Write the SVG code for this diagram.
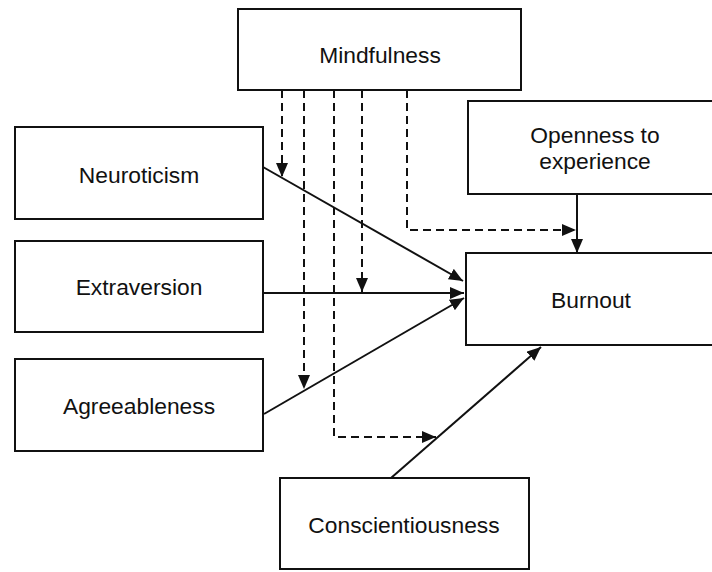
<svg xmlns="http://www.w3.org/2000/svg" width="712" height="572" viewBox="0 0 712 572">
<defs>
<style>
.box{fill:#fff;stroke:#111;stroke-width:2}
.lbl{font-family:"Liberation Sans",Arial,sans-serif;font-size:22.8px;fill:#111;text-anchor:middle}
.solid{fill:none;stroke:#111;stroke-width:2;marker-end:url(#ah)}
.dash{fill:none;stroke:#111;stroke-width:2;stroke-dasharray:8 5;marker-end:url(#ah)}
</style>
<marker id="ah" viewBox="0 0 14 12" refX="14" refY="6" markerWidth="14" markerHeight="12" markerUnits="userSpaceOnUse" orient="auto">
<path d="M0,0 L14,6 L0,12 Z" fill="#111"/>
</marker>
</defs>
<rect width="712" height="572" fill="#fff"/>
<g id="connectors">
<path class="solid" d="M263,167 L463,281"/>
<path class="solid" d="M263,293 L464,293"/>
<path class="solid" d="M264,414 L464,298"/>
<path class="solid" d="M391,478 L541,347"/>
<path class="solid" d="M577,194 L577,253"/>
<path class="dash" d="M282,90 L282,177"/>
<path class="dash" d="M304,90 L304,389"/>
<path class="dash" d="M334,90 L334,437 L436,437"/>
<path class="dash" d="M362,90 L362,292"/>
<path class="dash" d="M407,90 L407,230 L576,230"/>
</g>
<g id="mindfulness">
<rect class="box" x="238" y="9" width="283" height="81"/>
<text class="lbl" x="380" y="63">Mindfulness</text>
</g>
<g id="neuroticism">
<rect class="box" x="15" y="127" width="248" height="92"/>
<text class="lbl" x="139" y="183">Neuroticism</text>
</g>
<g id="extraversion">
<rect class="box" x="15" y="241" width="248" height="91"/>
<text class="lbl" x="139" y="295">Extraversion</text>
</g>
<g id="agreeableness">
<rect class="box" x="15" y="359" width="248" height="92"/>
<text class="lbl" x="139" y="414">Agreeableness</text>
</g>
<g id="openness">
<rect class="box" x="468" y="101" width="260" height="93"/>
<text class="lbl" x="595" y="143">Openness to</text>
<text class="lbl" x="595" y="169">experience</text>
</g>
<g id="burnout">
<rect class="box" x="466" y="253" width="262" height="92"/>
<text class="lbl" x="591" y="308">Burnout</text>
</g>
<g id="conscientiousness">
<rect class="box" x="280" y="478" width="249" height="91"/>
<text class="lbl" x="404" y="533">Conscientiousness</text>
</g>
</svg>
